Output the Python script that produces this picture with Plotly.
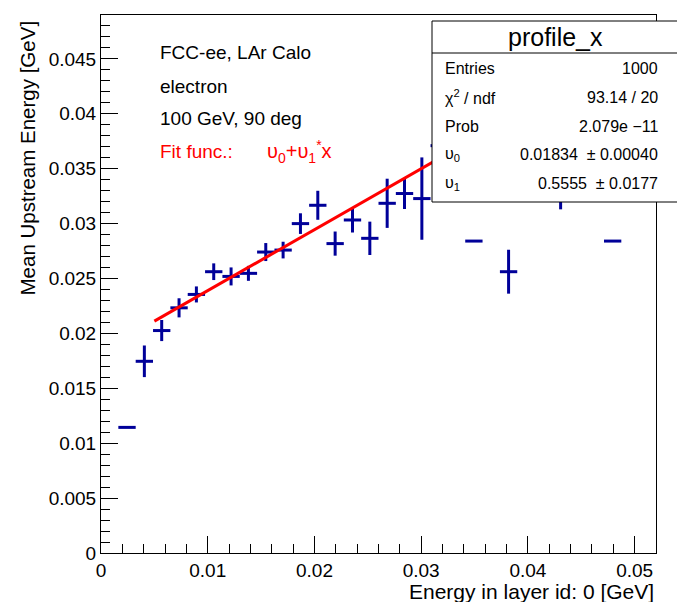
import plotly.graph_objects as go

# ---------------- data ----------------
BIN_WIDTH = 0.001625          # 32 bins over [0, 0.052]
bin_index = [1, 2, 3, 4, 5, 6, 7, 8, 9, 10, 11, 12, 13, 14, 15, 16, 17, 18, 19, 21, 23, 26, 29]
mean_energy = [0.01144, 0.01746, 0.02026, 0.02233, 0.02355, 0.02562, 0.02519, 0.02547,
               0.02741, 0.02759, 0.03000, 0.03167, 0.02818, 0.03033, 0.02866, 0.03185,
               0.03274, 0.03228, 0.03710, 0.02841, 0.02562, 0.03300, 0.02841]
mean_error = [0.0, 0.00144, 0.00096, 0.00087, 0.00073, 0.00076, 0.00082, 0.00068,
              0.00082, 0.00076, 0.00094, 0.00132, 0.00110, 0.00114, 0.00152, 0.00224,
              0.00141, 0.00375, 0.00250, 0.0, 0.00200, 0.00170, 0.0]

p0, p1 = 0.01834, 0.5555
fit_range = [0.005, 0.052]

stats_labels = ["Entries", "χ<sup>2</sup> / ndf", "Prob", "υ<sub>0</sub>", "υ<sub>1</sub>"]
stats_values = ["1000", "93.14 / 20", "2.079e −11",
                "0.01834  ± 0.00040", "0.5555  ± 0.0177"]
info_lines = ["FCC-ee, LAr Calo", "electron", "100 GeV, 90 deg"]

# ---------------- layout geometry ----------------
# the page body has an 8px margin, so the figure is drawn at (8, 8) of the window
OFF = 8
W, H = 685 - OFF, 602 - OFF
# plot frame in window pixels (reference coordinates)
FL, FR, FT, FB = 101, 656, 15, 553
L, R, T, B = FL - OFF, FR - OFF, FT - OFF, FB - OFF
def px(x):   # window pixel x -> paper
    return (x - FL) / (FR - FL)
def py(y):   # window pixel y -> paper
    return (FB - y) / (FB - FT)

FONT = "Liberation Sans, Arial, Helvetica, sans-serif"
BLUE = "#000099"
RED = "#ff0000"

x_centers = [(i + 0.5) * BIN_WIDTH for i in bin_index]

fig = go.Figure()
fig.add_trace(go.Scatter(
    x=x_centers, y=mean_energy, mode="markers",
    marker=dict(size=1, color=BLUE, opacity=0),
    error_x=dict(type="constant", value=BIN_WIDTH / 2, color=BLUE, thickness=3, width=0),
    error_y=dict(type="data", array=mean_error, color=BLUE, thickness=3, width=0),
    showlegend=False, hoverinfo="x+y"))

fit_x = fit_range
fit_y = [p0 + p1 * v for v in fit_x]
fig.add_trace(go.Scatter(x=fit_x, y=fit_y, mode="lines",
                         line=dict(color=RED, width=3), showlegend=False))

axis_common = dict(
    showgrid=False, zeroline=False, showline=True, linecolor="black", linewidth=1,
    mirror=True, ticks="inside", tickcolor="black", tickwidth=1,
    tickfont=dict(family=FONT, size=19, color="black"),
)
fig.update_xaxes(range=[0, 0.052], dtick=0.01, tick0=0, ticklen=17,
                 minor=dict(dtick=0.002, ticks="inside", ticklen=9, tickcolor="black"),
                 ticklabelstandoff=0, **axis_common)
fig.update_yaxes(range=[0, 0.049], dtick=0.005, tick0=0, ticklen=17,
                 minor=dict(dtick=0.001, ticks="inside", ticklen=9, tickcolor="black"),
                 ticklabelstandoff=0, **axis_common)

shapes = []
# stats box
bx0, bx1, by0, by1, bdiv = px(432), px(678), py(202), py(21), py(53)
shapes.append(dict(type="rect", xref="paper", yref="paper", x0=bx0, x1=bx1, y0=by0, y1=by1,
                   fillcolor="white", line=dict(color="black", width=1), layer="above"))
shapes.append(dict(type="line", xref="paper", yref="paper", x0=bx0, x1=bx1, y0=bdiv, y1=bdiv,
                   line=dict(color="black", width=1), layer="above"))

ann = []
ann.append(dict(x=(bx0 + bx1) / 2, y=py(37), xref="paper", yref="paper", text="profile_x",
                showarrow=False, xanchor="center", yanchor="middle",
                font=dict(family=FONT, size=25, color="black")))
row_y = [68, 97, 126, 155, 184]
for lab, val, yy in zip(stats_labels, stats_values, row_y):
    ann.append(dict(x=px(443), y=py(yy), xref="paper", yref="paper", text=lab, showarrow=False,
                    xanchor="left", yanchor="middle", font=dict(family=FONT, size=16, color="black")))
    ann.append(dict(x=px(660), y=py(yy), xref="paper", yref="paper", text=val, showarrow=False,
                    xanchor="right", yanchor="middle", font=dict(family=FONT, size=16, color="black")))

for line, yy in zip(info_lines, [52, 86, 118]):
    ann.append(dict(x=px(158), y=py(yy), xref="paper", yref="paper", text=line, showarrow=False,
                    xanchor="left", yanchor="middle", font=dict(family=FONT, size=19, color="black")))
ann.append(dict(x=px(158), y=py(151), xref="paper", yref="paper", text="Fit func.:", showarrow=False,
                xanchor="left", yanchor="middle", font=dict(family=FONT, size=19, color=RED)))
ann.append(dict(x=px(265), y=py(151), xref="paper", yref="paper",
                text="υ<sub>0</sub>+υ<sub>1</sub><sup>*</sup>x", showarrow=False,
                xanchor="left", yanchor="middle", font=dict(family=FONT, size=20, color=RED)))

# axis titles (ROOT style: right/top aligned)
ann.append(dict(x=px(656), y=py(591), xref="paper", yref="paper",
                text="Energy in layer id: 0 [GeV]", showarrow=False,
                xanchor="right", yanchor="middle", font=dict(family=FONT, size=21, color="black")))
ann.append(dict(x=px(27), y=py(19), xref="paper", yref="paper",
                text="Mean Upstream Energy [GeV]", showarrow=False, textangle=-90,
                xanchor="center", yanchor="top", font=dict(family=FONT, size=20.5, color="black")))

fig.update_layout(
    width=W, height=H, autosize=False,
    margin=dict(l=L, r=W - R, t=T, b=H - B, pad=0),
    paper_bgcolor="white", plot_bgcolor="white",
    shapes=shapes, annotations=ann, showlegend=False,
)

fig.write_html("out.html")
